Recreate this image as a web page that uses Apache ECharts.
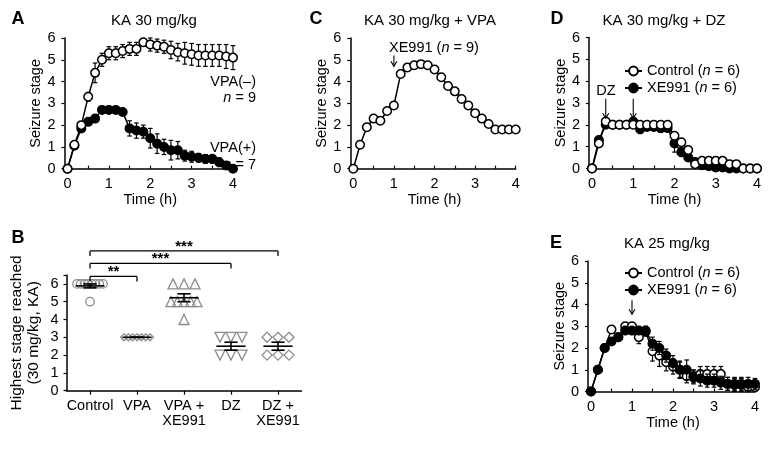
<!DOCTYPE html>
<html><head><meta charset="utf-8">
<script src="https://cdn.jsdelivr.net/npm/echarts@6/dist/echarts.min.js"></script>
<style>html,body{margin:0;padding:0;background:#fff}#c{width:781px;height:453px}</style>
</head><body><div id="c"></div>
<script>
// ---------- DATA ----------
const timeMin = [0,10,20,30,40,50,60,70,80,90,100,110,120,130,140,150,160,170,180,190,200,210,220,230,240];
const timeTickLabels = [0,1,2,3,4];
const stageTicks = [0,1,2,3,4,5,6];

// Panel A: KA 30 mg/kg
const aVpaNeg    = [0,1.1,2.0,3.3,4.4,5.0,5.3,5.3,5.4,5.5,5.5,5.8,5.7,5.65,5.6,5.45,5.35,5.3,5.25,5.2,5.2,5.2,5.2,5.15,5.1];
const aVpaNegErr = [0,0.1,0.15,0.2,0.45,0.3,0.3,0.3,0.3,0.3,0.3,0.12,0.3,0.3,0.3,0.4,0.4,0.5,0.5,0.5,0.5,0.5,0.5,0.55,0.55];
const aVpaPos    = [0,1.05,1.85,2.15,2.3,2.7,2.7,2.7,2.6,1.85,1.75,1.7,1.4,1.15,1.0,0.85,0.85,0.6,0.55,0.5,0.45,0.45,0.3,0.15,0.0];
const aVpaPosErr = [0,0.1,0.1,0.1,0.1,0.1,0.1,0.1,0.1,0.35,0.35,0.3,0.45,0.45,0.35,0.45,0.4,0.25,0.25,0.2,0.2,0.2,0.2,0.15,0.05];

// Panel C: KA 30 mg/kg + VPA, XE991
const cXe = [0,1.1,1.9,2.3,2.2,2.65,2.9,4.35,4.65,4.75,4.8,4.75,4.55,4.2,3.8,3.55,3.2,2.9,2.55,2.3,2.05,1.8,1.8,1.8,1.8];

// Panel D: KA 30 mg/kg + DZ
const dCtrl    = [0,1.15,2.15,2.0,2.0,2.0,2.0,2.0,2.0,2.0,2.0,2.0,1.5,1.2,0.85,0.2,0.35,0.35,0.35,0.35,0.2,0.2,0,0,0];
const dCtrlErr = [0,0.1,0.1,0,0,0,0.1,0.15,0.15,0.15,0.15,0.15,0.15,0.15,0.1,0.1,0.1,0.1,0.1,0.1,0.1,0.1,0,0,0];
const dXe      = [0,1.3,2.0,2.0,2.0,2.0,2.15,1.8,1.9,1.9,1.85,1.85,1.15,0.75,0.5,0.3,0.15,0.1,0.05,0.05,0,0,0,0,0];
const dXeErr   = [0,0.1,0.1,0.05,0.05,0.05,0.1,0.2,0.15,0.15,0.2,0.15,0.4,0.2,0.15,0.1,0.1,0.1,0.05,0.05,0,0,0,0,0];

// Panel E: KA 25 mg/kg
const eCtrl    = [0,1.0,2.0,2.85,2.5,3.0,3.0,2.5,2.75,1.85,1.65,1.35,1.15,1.0,0.7,0.7,0.8,0.8,0.8,0.8,0.35,0.35,0.3,0.2,0.2];
const eCtrlErr = [0,0.05,0.1,0.1,0.15,0.15,0.15,0.3,0.2,0.45,0.5,0.4,0.35,0.35,0.3,0.3,0.35,0.35,0.35,0.35,0.3,0.3,0.3,0.2,0.2];
const eXe      = [0,1.0,2.0,2.3,2.5,2.8,2.8,2.8,2.8,2.2,2.0,1.65,1.3,1.0,1.0,0.65,0.6,0.5,0.5,0.4,0.35,0.3,0.35,0.35,0.35];
const eXeErr   = [0,0.05,0.1,0.1,0.1,0.1,0.1,0.1,0.2,0.3,0.3,0.3,0.35,0.4,0.45,0.3,0.35,0.3,0.3,0.3,0.3,0.3,0.3,0.3,0.25];

// Arrows: [time (h), from stage, to stage]
const cArrows = [[1, 5.2, 4.7]];
const dArrows = [[1/3, 3.2, 2.3], [1, 3.2, 2.3]];
const eArrows = [[1, 4.2, 3.55]];

// Panel B: highest stage reached
const bGroups = ['Control','VPA','VPA +\nXE991','DZ','DZ +\nXE991'];
const bControl = [6,6,6,6,6,6,6,6,5];
const bVpa     = [3,3,3,3,3,3,3];
const bVpaXe   = [6,6,6,5,5,5,5,5,4];
const bDz      = [3,3,3,2,2,2];
const bDzXe    = [3,3,3,2,2,2];
const bBracketPairs  = [[0,1],[0,3],[0,4]];
const bBracketLevels = [6.42,7.15,7.85];
const bBracketLabels = ['**','***','***'];

// ---------- BUILD ----------
const FONT = "'Liberation Sans', Arial, Helvetica, sans-serif";
const FS = 14.5;
const timeH = timeMin.map(m => m / 60);
const chart = echarts.init(document.getElementById('c'), null, {renderer:'canvas'});

function timeXAxis(gi) {
  return { type:'value', gridIndex:gi, min:0, max:4, interval:0.5,
    axisLine:{show:true, onZero:false, lineStyle:{color:'#000', width:1.5}},
    axisTick:{show:true, inside:true, length:3, lineStyle:{color:'#000', width:1.2}},
    axisLabel:{show:true, color:'#000', fontSize:FS, fontFamily:FONT, margin:8, hideOverlap:false,
      showMinLabel:true, showMaxLabel:true,
      formatter: v => (timeTickLabels.indexOf(v) >= 0 ? String(v) : '')},
    splitLine:{show:false},
    name:'Time (h)', nameLocation:'middle', nameGap:23,
    nameTextStyle:{color:'#000', fontSize:FS, fontFamily:FONT} };
}
function stageYAxis(gi) {
  return { type:'value', gridIndex:gi, min:0, max:6, interval:1, offset:3,
    axisLine:{show:true, onZero:false, lineStyle:{color:'#000', width:1.5}},
    axisTick:{show:true, inside:false, length:3, lineStyle:{color:'#000', width:1.2}},
    axisLabel:{show:true, color:'#000', fontSize:FS, fontFamily:FONT, margin:9, hideOverlap:false,
      formatter: v => (stageTicks.indexOf(v) >= 0 ? String(v) : '')},
    splitLine:{show:false},
    name:'Seizure stage', nameLocation:'middle', nameGap:20,
    nameTextStyle:{color:'#000', fontSize:FS, fontFamily:FONT} };
}
function lineSeries(name, gi, vals, filled, z) {
  return { type:'line', name:name, xAxisIndex:gi, yAxisIndex:gi,
    data: timeH.map((t,i) => [t, vals[i]]),
    symbol:'circle', symbolSize:8.5, showSymbol:true, showAllSymbol:true,
    lineStyle:{color:'#000', width:1.5},
    itemStyle:{color: filled ? '#000' : '#fff', borderColor:'#000', borderWidth:1.5, opacity:1},
    emphasis:{disabled:true}, silent:true, z:z, animation:false };
}
function errRender(params, api) {
  const x = api.value(0), y = api.value(1), e = api.value(2);
  if (!e) return null;
  const top = api.coord([x, y + e]), bot = api.coord([x, y - e]);
  const w = 2.3, st = {stroke:'#000', lineWidth:1.2};
  return { type:'group', children:[
    {type:'line', shape:{x1:top[0], y1:top[1], x2:bot[0], y2:bot[1]}, style:st},
    {type:'line', shape:{x1:top[0]-w, y1:top[1], x2:top[0]+w, y2:top[1]}, style:st},
    {type:'line', shape:{x1:bot[0]-w, y1:bot[1], x2:bot[0]+w, y2:bot[1]}, style:st}
  ]};
}
function errSeries(gi, vals, errs, z) {
  return { type:'custom', xAxisIndex:gi, yAxisIndex:gi,
    data: timeH.map((t,i) => [t, vals[i], errs[i]]),
    encode:{x:0, y:1}, renderItem: errRender, z:z, silent:true, animation:false };
}
function arrowRender(params, api) {
  const p1 = api.coord([api.value(0), api.value(1)]);
  const p2 = api.coord([api.value(0), api.value(2)]);
  const h = 5, w = 3, st = {stroke:'#000', lineWidth:1.1, fill:'none'};
  return { type:'group', children:[
    {type:'line', shape:{x1:p1[0], y1:p1[1], x2:p2[0], y2:p2[1]}, style:st},
    {type:'polyline', shape:{points:[[p2[0]-w, p2[1]-h],[p2[0], p2[1]],[p2[0]+w, p2[1]-h]]}, style:st}
  ]};
}
function arrowSeries(gi, arr) {
  return { type:'custom', xAxisIndex:gi, yAxisIndex:gi, data: arr, encode:{x:0, y:[1,2]},
    renderItem: arrowRender, z:10, silent:true, animation:false, clip:false };
}

// grids: 0 A, 1 C, 2 D, 3 E, 4 B
const grids = [
  {left:67.5, top:38,  width:165.5, height:130.7},
  {left:353.3, top:38, width:162.4, height:130.7},
  {left:592, top:37.5, width:165, height:131},
  {left:591, top:261, width:164, height:130.5},
  {left:66.5, top:275, width:235, height:115.7}
].map(g => Object.assign({outerBoundsMode:'none', containLabel:false, show:false}, g));

const xAxes = [timeXAxis(0), timeXAxis(1), timeXAxis(2), timeXAxis(3),
  { type:'category', gridIndex:4, data:bGroups, boundaryGap:true,
    axisLine:{show:true, lineStyle:{color:'#000', width:1.5}},
    axisTick:{show:true, alignWithLabel:true, inside:false, length:4, lineStyle:{color:'#000', width:1.2}},
    axisLabel:{show:true, interval:0, color:'#000', fontSize:FS, lineHeight:15, fontFamily:FONT, margin:8, hideOverlap:false},
    splitLine:{show:false} },
  { type:'value', gridIndex:4, min:-0.5, max:4.5, show:false, splitLine:{show:false} }
];
const yAxes = [stageYAxis(0), stageYAxis(1), stageYAxis(2), stageYAxis(3),
  { type:'value', gridIndex:4, min:0, max:6.5, interval:1,
    axisLine:{show:true, onZero:false, lineStyle:{color:'#000', width:1.5}},
    axisTick:{show:true, inside:false, length:3, lineStyle:{color:'#000', width:1.2}},
    axisLabel:{show:true, color:'#000', fontSize:FS, fontFamily:FONT, margin:8, hideOverlap:false,
      formatter: v => (stageTicks.indexOf(v) >= 0 ? String(v) : '')},
    splitLine:{show:false},
    name:'Highest stage reached\n(30 mg/kg, KA)', nameLocation:'middle', nameGap:24,
    nameTextStyle:{color:'#000', fontSize:15.5, lineHeight:17, fontFamily:FONT} }
];

// Panel B scatter (beeswarm layout computed from the values)
const catPx = 235 / 5;
function swarm(vals, idx) {
  const out = [];
  const uniq = [...new Set(vals)];
  uniq.forEach(v => {
    const n = vals.filter(x => x === v).length;
    const step = n > 1 ? Math.min(11, 26 / (n - 1)) : 0;
    for (let k = 0; k < n; k++) out.push([idx + (k - (n - 1) / 2) * step / catPx, v]);
  });
  return out;
}
function meanSem(vals) {
  const n = vals.length, m = vals.reduce((a,b)=>a+b,0)/n;
  const sd = Math.sqrt(vals.reduce((a,b)=>a+(b-m)*(b-m),0)/(n-1));
  return [m, sd/Math.sqrt(n)];
}
const GRAY = '#8c8c8c';
function bScatter(vals, idx, symbol, size, rotate) {
  return { type:'scatter', xAxisIndex:5, yAxisIndex:4, data: swarm(vals, idx),
    symbol:symbol, symbolSize:size, symbolRotate: rotate || 0,
    itemStyle:{color:'rgba(255,255,255,0)', borderColor:GRAY, borderWidth:1.3, opacity:1},
    emphasis:{disabled:true}, silent:true, z:3, animation:false };
}
const bAll = [bControl, bVpa, bVpaXe, bDz, bDzXe];
const bStats = bAll.map((v,i) => { const ms = meanSem(v); return [i, ms[0], ms[1]]; });

const series = [
  // A
  errSeries(0, aVpaPos, aVpaPosErr, 2),
  lineSeries('VPA(+)', 0, aVpaPos, true, 3),
  errSeries(0, aVpaNeg, aVpaNegErr, 4),
  lineSeries('VPA(–)', 0, aVpaNeg, false, 5),
  // C
  lineSeries('XE991 (n = 9)', 1, cXe, false, 5),
  arrowSeries(1, cArrows),
  // D
  errSeries(2, dXe, dXeErr, 2),
  lineSeries('XE991 (n = 6)', 2, dXe, true, 3),
  errSeries(2, dCtrl, dCtrlErr, 4),
  lineSeries('Control (n = 6)', 2, dCtrl, false, 5),
  arrowSeries(2, dArrows),
  // E
  errSeries(3, eCtrl, eCtrlErr, 2),
  lineSeries('Control (n = 6)', 3, eCtrl, false, 3),
  errSeries(3, eXe, eXeErr, 4),
  lineSeries('XE991 (n = 6)', 3, eXe, true, 5),
  arrowSeries(3, eArrows),
  // B
  bScatter(bControl, 0, 'circle', 8.5),
  bScatter(bVpa, 1, 'diamond', 7),
  bScatter(bVpaXe, 2, 'triangle', 10),
  bScatter(bDz, 3, 'triangle', 10, 180),
  bScatter(bDzXe, 4, 'diamond', 10),
  { type:'custom', xAxisIndex:5, yAxisIndex:4, data:bStats, encode:{x:0, y:1}, z:6, silent:true, animation:false,
    renderItem:(params, api) => {
      const i = api.value(0), m = api.value(1), s = api.value(2);
      const pm = api.coord([i, m]), pt = api.coord([i, m + s]), pb = api.coord([i, m - s]);
      const hw = 0.31 * catPx, cw = 0.14 * catPx, st = {stroke:'#000', lineWidth:1.6};
      return {type:'group', children:[
        {type:'line', shape:{x1:pm[0]-hw, y1:pm[1], x2:pm[0]+hw, y2:pm[1]}, style:st},
        {type:'line', shape:{x1:pt[0], y1:pt[1], x2:pb[0], y2:pb[1]}, style:st},
        {type:'line', shape:{x1:pt[0]-cw, y1:pt[1], x2:pt[0]+cw, y2:pt[1]}, style:st},
        {type:'line', shape:{x1:pb[0]-cw, y1:pb[1], x2:pb[0]+cw, y2:pb[1]}, style:st}
      ]};
    } },
  { type:'custom', xAxisIndex:5, yAxisIndex:4, clip:false, z:6, silent:true, animation:false,
    data: bBracketPairs.map((p,i) => [p[0], p[1], bBracketLevels[i]]), encode:{x:[0,1], y:2},
    renderItem:(params, api) => {
      const a = api.coord([api.value(0), api.value(2)]), b = api.coord([api.value(1), api.value(2)]);
      const st = {stroke:'#000', lineWidth:1.3};
      return {type:'group', children:[
        {type:'line', shape:{x1:a[0], y1:a[1], x2:b[0], y2:b[1]}, style:st},
        {type:'line', shape:{x1:a[0], y1:a[1], x2:a[0], y2:a[1]+5}, style:st},
        {type:'line', shape:{x1:b[0], y1:b[1], x2:b[0], y2:b[1]+5}, style:st},
        {type:'text', style:{text:bBracketLabels[params.dataIndex], x:(a[0]+b[0])/2, y:a[1]+3,
          textAlign:'center', textVerticalAlign:'bottom', font:'bold 15px ' + FONT, fill:'#000'}}
      ]};
    } }
];

function txt(text, x, y, opts) {
  return Object.assign({ type:'text', x:x, y:y, silent:true, style: Object.assign({
    text:text, fill:'#000', font:FS + 'px ' + FONT, textAlign:'center', textVerticalAlign:'middle',
    rich:{i:{fontStyle:'italic', fontSize:FS, fontFamily:FONT}, t:{fontSize:FS, fontFamily:FONT}}
  }, opts || {}) });
}
const bold = {font:'bold 18px ' + FONT};
const tfont = {font:'15px ' + FONT};
const graphics = [
  txt('A', 18, 19, bold), txt('B', 18, 238, bold), txt('C', 316, 19, bold),
  txt('D', 557, 19, bold), txt('E', 556, 243, bold),
  txt('KA 30 mg/kg', 154, 21, tfont), txt('KA 30 mg/kg + VPA', 430, 21, tfont),
  txt('KA 30 mg/kg + DZ', 664, 21, tfont), txt('KA 25 mg/kg', 667, 244, tfont),
  txt('VPA(–)', 256, 82, {textAlign:'right'}),
  txt('{i|n}{t| = 9}', 256, 98, {textAlign:'right'}),
  txt('VPA(+)', 256, 148, {textAlign:'right'}),
  txt('{i|n}{t| = 7}', 256, 165, {textAlign:'right'}),
  txt('{t|XE991 (}{i|n}{t| = 9)}', 389, 48, {textAlign:'left'}),
  txt('DZ', 606, 91)
];

function legendAt(top) {
  return { show:true, left:624, top:top, orient:'vertical', padding:0, itemGap:1,
    itemWidth:17, itemHeight:11, selectedMode:false,
    data:['Control (n = 6)', 'XE991 (n = 6)'],
    formatter: name => name.replace('(n', '({i|n}'),
    textStyle:{color:'#000', fontSize:FS, fontFamily:FONT, lineHeight:16,
      rich:{i:{fontStyle:'italic', fontSize:FS, fontFamily:FONT, lineHeight:16}}} };
}

chart.setOption({
  animation:false,
  backgroundColor:'#fff',
  textStyle:{fontFamily:FONT},
  grid: grids,
  xAxis: xAxes,
  yAxis: yAxes,
  legend: [legendAt(63), legendAt(265)],
  series: series,
  graphic: graphics
});
</script></body></html>
